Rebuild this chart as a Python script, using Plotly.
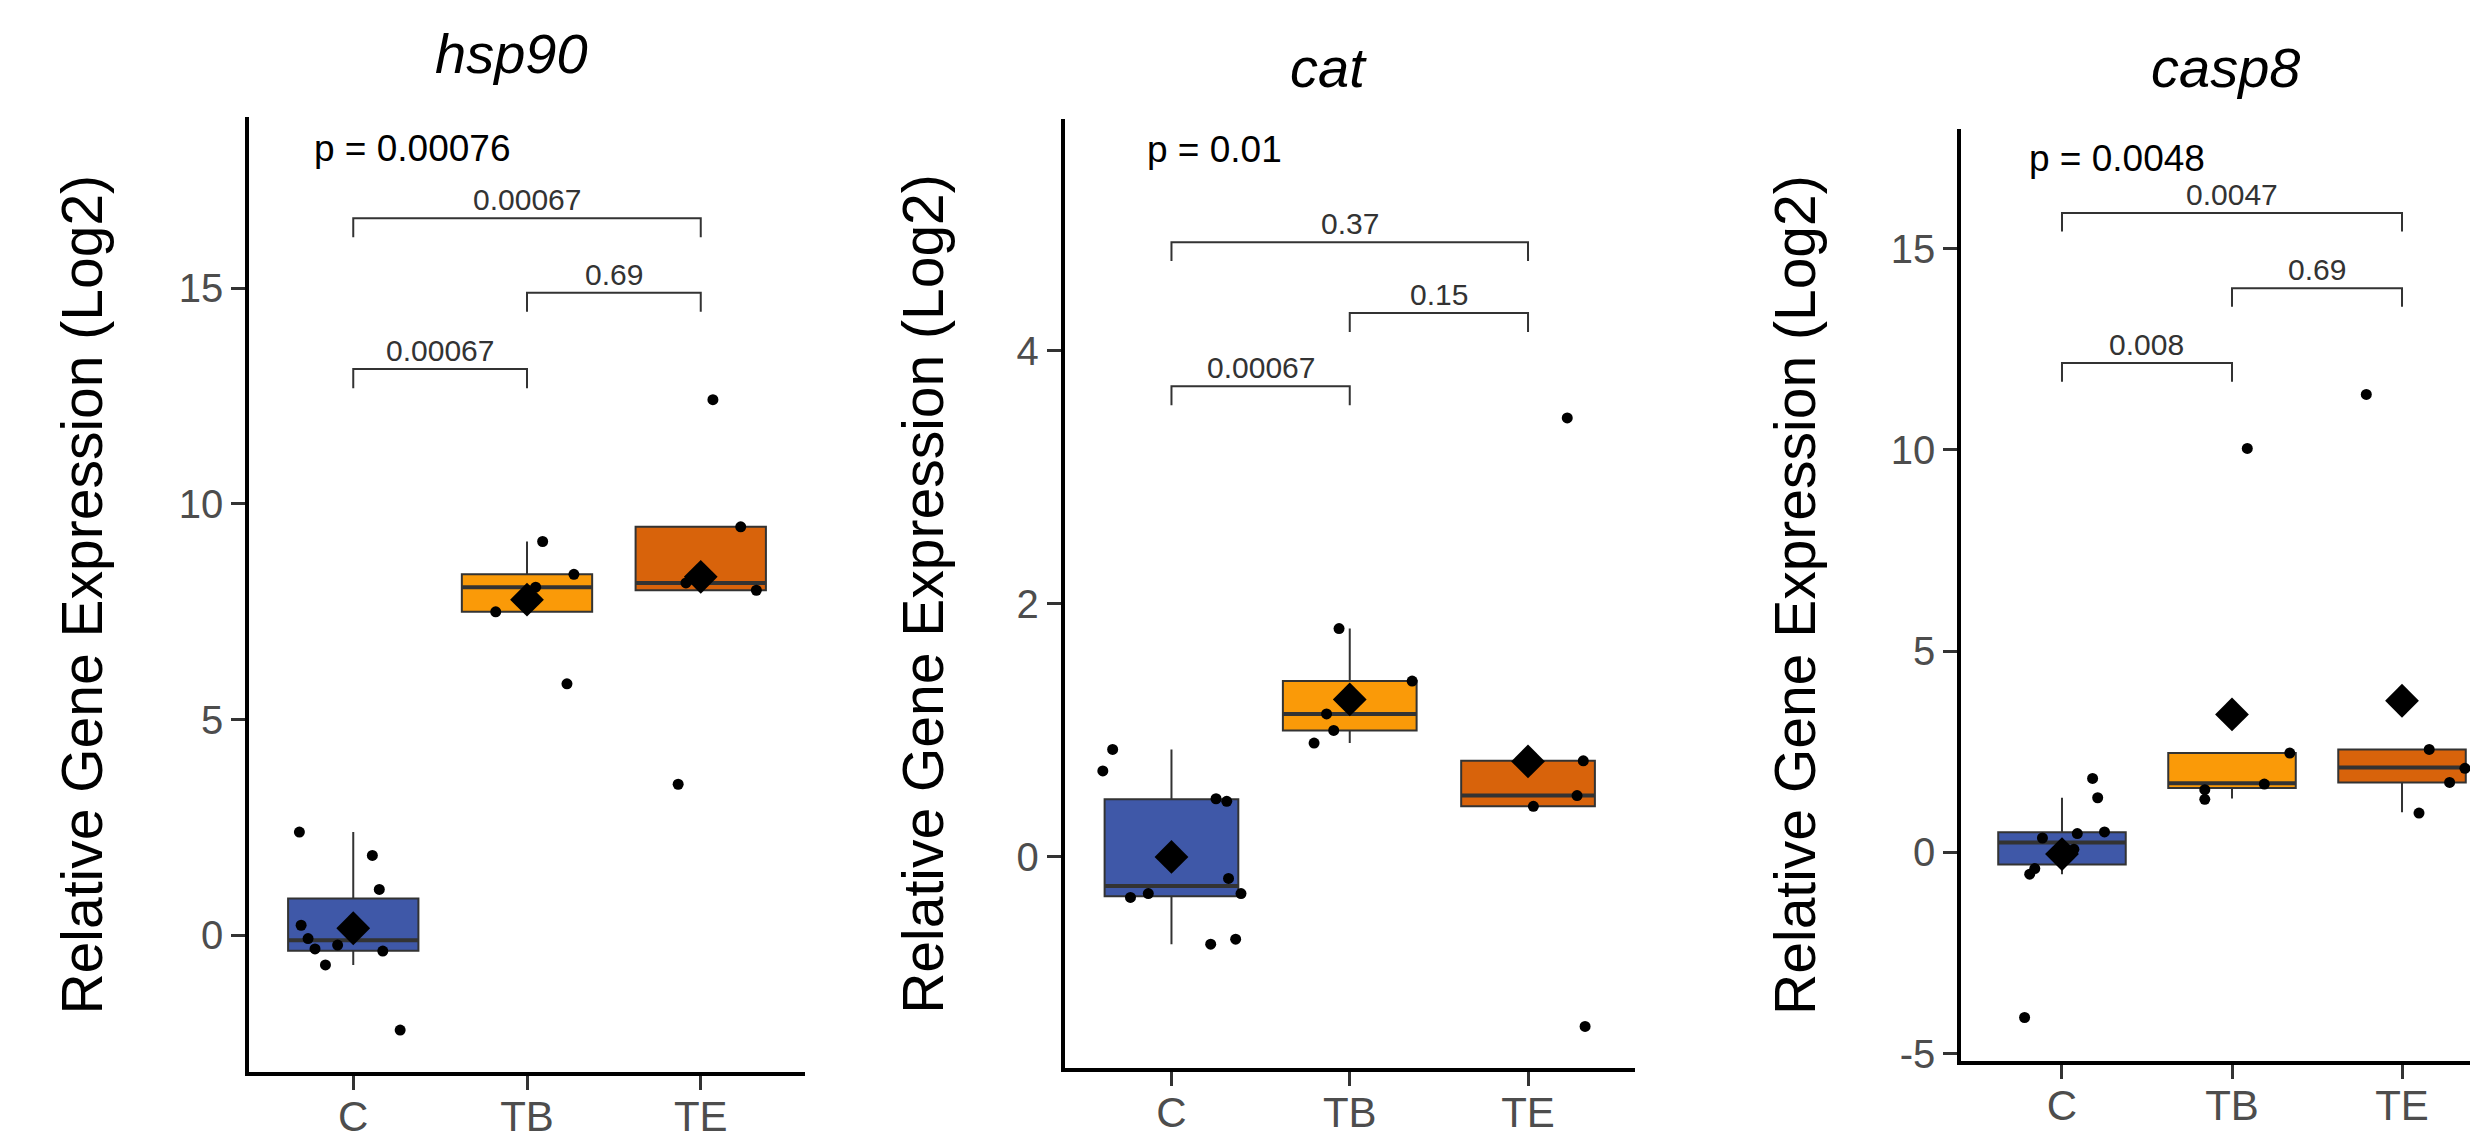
import plotly.graph_objects as go

W, H = 2478, 1142

# ---------------- data ----------------
groups = ["C", "TB", "TE"]
genes = ["hsp90", "cat", "casp8"]
global_p = ["p = 0.00076", "p = 0.01", "p = 0.0048"]

# raw (jittered) observations per gene / group
hsp90_C = [2.39, 1.85, 1.06, 0.23, -0.08, -0.32, -0.23, -0.37, -0.69, -2.2]
hsp90_TB = [7.5, 9.13, 8.37, 8.07, 5.83]
hsp90_TE = [12.42, 9.47, 8.17, 8.0, 3.5]
cat_C = [0.85, 0.68, 0.46, 0.44, -0.17, -0.29, -0.29, -0.32, -0.69, -0.65]
cat_TB = [1.805, 1.39, 1.13, 1.0, 0.9]
cat_TE = [3.47, 0.76, 0.485, 0.40, -1.34]
casp8_C = [1.84, 1.36, 0.51, 0.47, 0.36, 0.08, -0.06, -0.40, -0.54, -4.1]
casp8_TB = [10.04, 2.47, 1.70, 1.56, 1.32]
casp8_TE = [11.38, 2.56, 2.09, 1.74, 0.98]

hsp90_C_jit = [-0.31, 0.11, 0.15, -0.30, -0.26, -0.22, -0.09, 0.17, -0.16, 0.27]
hsp90_TB_jit = [-0.18, 0.09, 0.27, 0.05, 0.23]
hsp90_TE_jit = [0.07, 0.23, -0.085, 0.32, -0.13]
cat_C_jit = [-0.33, -0.385, 0.25, 0.31, 0.32, 0.39, -0.13, -0.23, 0.22, 0.36]
cat_TB_jit = [-0.06, 0.35, -0.13, -0.09, -0.2]
cat_TE_jit = [0.22, 0.31, 0.275, 0.03, 0.32]
casp8_C_jit = [0.18, 0.21, 0.25, 0.09, -0.115, 0.07, -0.02, -0.16, -0.19, -0.22]
casp8_TB_jit = [0.09, 0.34, 0.19, -0.16, -0.16]
casp8_TE_jit = [-0.21, 0.16, 0.37, 0.28, 0.10]

# box statistics per group (C, TB, TE)
hsp90_q1 = [-0.36, 7.5, 8.0]
hsp90_med = [-0.12, 8.07, 8.17]
hsp90_q3 = [0.85, 8.37, 9.47]
hsp90_lo = [-0.69, 7.5, 8.0]
hsp90_hi = [2.39, 9.13, 9.47]
hsp90_mean = [0.16, 7.78, 8.31]

cat_q1 = [-0.31, 1.0, 0.40]
cat_med = [-0.23, 1.13, 0.485]
cat_q3 = [0.455, 1.39, 0.76]
cat_lo = [-0.69, 0.9, 0.40]
cat_hi = [0.85, 1.805, 0.76]
cat_mean = [0.0, 1.245, 0.755]

casp8_q1 = [-0.3, 1.6, 1.74]
casp8_med = [0.25, 1.72, 2.11]
casp8_q3 = [0.5, 2.47, 2.56]
casp8_lo = [-0.54, 1.34, 1.0]
casp8_hi = [1.36, 2.47, 2.56]
casp8_mean = [-0.04, 3.43, 3.77]

# pairwise comparisons: (group a, group b), bracket height, label
pairs = [(1, 2), (2, 3), (1, 3)]
hsp90_br_y = [13.13, 14.9, 16.63]
hsp90_br_lab = ["0.00067", "0.69", "0.00067"]
cat_br_y = [3.72, 4.3, 4.86]
cat_br_lab = ["0.00067", "0.15", "0.37"]
casp8_br_y = [12.16, 14.02, 15.89]
casp8_br_lab = ["0.008", "0.69", "0.0047"]

# global p-label position (x in category units, y in data units)
p_pos = [(0.765, 18.25), (0.851, 5.59), (0.792, 17.23)]

# y axes
y_ranges = [(-3.17, 18.97), (-1.67, 5.83), (-5.18, 17.98)]
y_ticks = [[0, 5, 10, 15], [0, 2, 4], [-5, 0, 5, 10, 15]]
y_ticktext = [["0", "5", "10", "15"], ["0", "2", "4"], ["-5", "0", "5", "10", "15"]]
x_ranges = [(0.4, 3.6), (0.4, 3.6), (0.406, 3.494)]

# ---------------- style ----------------
FONT = "Liberation Sans, Arial, sans-serif"
colors = ["#3F58A8", "#FA9A08", "#D8630B"]
BOX_W = 0.75
DARK = "#333333"

x_dom_px = [(241, 797), (1056.5, 1627), (1953, 2478)]
y_dom_px = [(110.7, 1078), (112.9, 1074.3), (122.4, 1067)]
ytitle_x_px = [74, 915, 1787]
title_x_px = [503, 1320, 2217]
title_y_px = [46, 60, 60]

data = {
    "hsp90": dict(vals=[hsp90_C, hsp90_TB, hsp90_TE], jit=[hsp90_C_jit, hsp90_TB_jit, hsp90_TE_jit],
                  q1=hsp90_q1, med=hsp90_med, q3=hsp90_q3, lo=hsp90_lo, hi=hsp90_hi, mean=hsp90_mean,
                  bry=hsp90_br_y, brl=hsp90_br_lab),
    "cat": dict(vals=[cat_C, cat_TB, cat_TE], jit=[cat_C_jit, cat_TB_jit, cat_TE_jit],
                q1=cat_q1, med=cat_med, q3=cat_q3, lo=cat_lo, hi=cat_hi, mean=cat_mean,
                bry=cat_br_y, brl=cat_br_lab),
    "casp8": dict(vals=[casp8_C, casp8_TB, casp8_TE], jit=[casp8_C_jit, casp8_TB_jit, casp8_TE_jit],
                  q1=casp8_q1, med=casp8_med, q3=casp8_q3, lo=casp8_lo, hi=casp8_hi, mean=casp8_mean,
                  bry=casp8_br_y, brl=casp8_br_lab),
}

fig = go.Figure()
annotations = []
layout_axes = {}

for p, gene in enumerate(genes):
    d = data[gene]
    sfx = "" if p == 0 else str(p + 1)
    xa, ya = "x" + sfx, "y" + sfx
    ymin, ymax = y_ranges[p]
    tip = 0.02 * (ymax - ymin)

    for g in range(3):
        xg = g + 1
        fig.add_trace(go.Box(
            x=[xg], q1=[d["q1"][g]], median=[d["med"][g]], q3=[d["q3"][g]],
            lowerfence=[d["lo"][g]], upperfence=[d["hi"][g]],
            width=BOX_W, fillcolor=colors[g], line=dict(color=DARK, width=2),
            whiskerwidth=0, boxpoints=False, xaxis=xa, yaxis=ya,
            showlegend=False, hoverinfo="skip"))
        fig.add_trace(go.Scatter(
            x=[xg - BOX_W / 2, xg + BOX_W / 2], y=[d["med"][g], d["med"][g]],
            mode="lines", line=dict(color=DARK, width=4), xaxis=xa, yaxis=ya,
            showlegend=False, hoverinfo="skip"))
    for g in range(3):
        xg = g + 1
        fig.add_trace(go.Scatter(
            x=[xg + j for j in d["jit"][g]], y=d["vals"][g], mode="markers",
            marker=dict(color="black", size=11), xaxis=xa, yaxis=ya,
            showlegend=False, hoverinfo="skip"))
    fig.add_trace(go.Scatter(
        x=[1, 2, 3], y=d["mean"], mode="markers",
        marker=dict(symbol="diamond", color="black", size=26), xaxis=xa, yaxis=ya,
        showlegend=False, hoverinfo="skip"))

    for (a, b), yb, lab in zip(pairs, d["bry"], d["brl"]):
        fig.add_trace(go.Scatter(
            x=[a, a, b, b], y=[yb - tip, yb, yb, yb - tip], mode="lines",
            line=dict(color=DARK, width=2), xaxis=xa, yaxis=ya,
            showlegend=False, hoverinfo="skip"))
        annotations.append(dict(
            x=(a + b) / 2, y=yb, xref=xa, yref=ya, text=lab, showarrow=False,
            yanchor="bottom", yshift=0, font=dict(family=FONT, size=30, color=DARK)))

    px_, py_ = p_pos[p]
    annotations.append(dict(
        x=px_, y=py_, xref=xa, yref=ya, text=global_p[p], showarrow=False,
        xanchor="left", yanchor="middle", font=dict(family=FONT, size=37, color="black")))

    # panel title (italic gene name)
    annotations.append(dict(
        x=title_x_px[p] / W, y=1 - title_y_px[p] / H, xref="paper", yref="paper",
        text="<i>" + gene + "</i>",
        showarrow=False, xanchor="center", yanchor="middle",
        font=dict(family=FONT, size=56, color="black")))

    # y-axis title
    y0, y1 = y_dom_px[p]
    annotations.append(dict(
        x=ytitle_x_px[p] / W, y=1 - (y0 + y1) / 2 / H, xref="paper", yref="paper",
        text="Relative Gene Expression (Log2)", textangle=-90, showarrow=False,
        xanchor="center", yanchor="middle", font=dict(family=FONT, size=57, color="black")))

    x0, x1 = x_dom_px[p]
    layout_axes["xaxis" + sfx] = dict(
        domain=[x0 / W, min(x1 / W, 1.0)], range=list(x_ranges[p]), anchor=ya,
        tickmode="array", tickvals=[1, 2, 3], ticktext=groups,
        showline=True, linecolor="black", linewidth=3.5, ticks="outside", ticklen=14,
        tickwidth=3, tickcolor=DARK, tickfont=dict(family=FONT, size=42, color="#4D4D4D"),
        ticklabelstandoff=-9,
        showgrid=False, zeroline=False, fixedrange=True)
    layout_axes["yaxis" + sfx] = dict(
        domain=[1 - y1 / H, 1 - y0 / H], range=[ymin, ymax], anchor=xa,
        tickmode="array", tickvals=y_ticks[p], ticktext=y_ticktext[p],
        showline=True, linecolor="black", linewidth=3.5, ticks="outside", ticklen=14,
        tickwidth=3, tickcolor=DARK, tickfont=dict(family=FONT, size=40, color="#4D4D4D"),
        showgrid=False, zeroline=False, fixedrange=True)

fig.update_layout(
    width=W, height=H, margin=dict(l=0, r=0, t=0, b=0),
    paper_bgcolor="white", plot_bgcolor="white", showlegend=False,
    annotations=annotations, font=dict(family=FONT), **layout_axes)

fig.write_html("out.html")
